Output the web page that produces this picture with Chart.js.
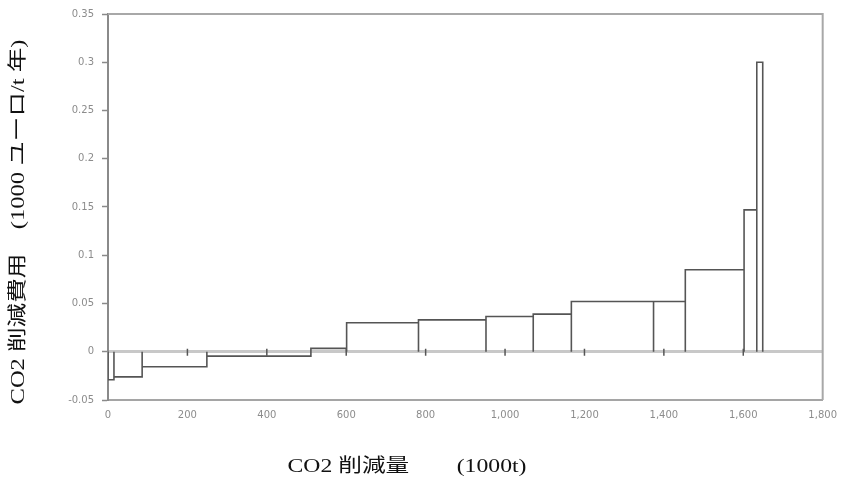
<!DOCTYPE html>
<html>
<head>
<meta charset="utf-8">
<script src="https://cdn.jsdelivr.net/npm/chart.js@4.4.0/dist/chart.umd.min.js"></script>
<style>
  html, body { margin: 0; padding: 0; background: #fff; }
</style>
</head>
<body>
<canvas id="macChart" width="846" height="484"></canvas>
<script>
// cumulative reduction at the right edge of each measure (1000t) and its cost
const blockEnds = [15, 86, 249, 511, 601, 782, 952, 1071, 1167, 1374, 1454, 1602, 1634, 1649];
const costs = [-0.029, -0.026, -0.0155, -0.0045, 0.0035, 0.030, 0.033, 0.0365, 0.039, 0.052, 0.052, 0.085, 0.147, 0.300];
const xTickValues = [0, 200, 400, 600, 800, 1000, 1200, 1400, 1600, 1800];
const xTickLabels = ["0", "200", "400", "600", "800", "1,000", "1,200", "1,400", "1,600", "1,800"];
const yTickValues = [-0.05, 0, 0.05, 0.1, 0.15, 0.2, 0.25, 0.3, 0.35];
const yTickLabels = ["-0.05", "0", "0.05", "0.1", "0.15", "0.2", "0.25", "0.3", "0.35"];
const xTitle = "CO2 削減量　　(1000t)";
const yTitle = "CO2 削減費用　(1000 ユーロ/t 年)";

// outline of every block: up the left edge, across the top, down the right edge
const outline = [];
let start = 0;
blockEnds.forEach((end, i) => {
  outline.push({ x: start, y: 0 }, { x: start, y: costs[i] }, { x: end, y: costs[i] }, { x: end, y: 0 });
  start = end;
});

const tickFont = { family: "'DejaVu Sans', sans-serif", size: 10 };
const titleFont = "19px 'Liberation Serif', 'Noto Sans CJK JP', serif";

// top and right edge of the plot box
const frame = {
  id: "frame",
  beforeDatasetsDraw(chart) {
    const { ctx, chartArea: a } = chart;
    ctx.save();
    ctx.strokeStyle = "#a8a8a8";
    ctx.lineWidth = 2;
    ctx.beginPath();
    ctx.moveTo(a.left, a.top);
    ctx.lineTo(a.right, a.top);
    ctx.lineTo(a.right, a.bottom);
    ctx.stroke();
    ctx.restore();
  }
};

// small x tick marks sitting on the zero line
const zeroTicks = {
  id: "zeroTicks",
  afterDatasetsDraw(chart) {
    const { ctx, scales } = chart;
    const y0 = scales.y.getPixelForValue(0);
    ctx.save();
    ctx.strokeStyle = "#555";
    ctx.lineWidth = 1.5;
    xTickValues.slice(1, -1).forEach(v => {
      const px = scales.x.getPixelForValue(v);
      ctx.beginPath();
      ctx.moveTo(px, y0 - 3);
      ctx.lineTo(px, y0 + 4);
      ctx.stroke();
    });
    ctx.restore();
  }
};

// axis titles, stretched a little like the original wide type
const titles = {
  id: "titles",
  afterDraw(chart) {
    const { ctx } = chart;
    ctx.save();
    ctx.font = titleFont;
    ctx.fillStyle = "#111";
    ctx.textAlign = "center";
    ctx.textBaseline = "middle";

    let w = ctx.measureText(xTitle).width;
    ctx.save();
    ctx.translate(407, 467);
    ctx.scale(239 / w, 1);
    ctx.fillText(xTitle, 0, 0);
    ctx.restore();

    w = ctx.measureText(yTitle).width;
    ctx.save();
    ctx.translate(19, 222);
    ctx.rotate(-Math.PI / 2);
    ctx.scale(365 / w, 1);
    ctx.fillText(yTitle, 0, 0);
    ctx.restore();

    ctx.restore();
  }
};

new Chart(document.getElementById("macChart"), {
  type: "line",
  data: {
    datasets: [{
      data: outline,
      borderColor: "#555555",
      borderWidth: 1.6,
      pointRadius: 0,
      fill: false,
      tension: 0
    }]
  },
  options: {
    responsive: false,
    animation: false,
    layout: { padding: { top: 13, right: 23, left: 0, bottom: 0 } },
    plugins: { legend: { display: false }, tooltip: { enabled: false } },
    scales: {
      x: {
        type: "linear",
        min: 0,
        max: 1800,
        afterBuildTicks: s => { s.ticks = xTickValues.map(v => ({ value: v })); },
        afterFit: s => { s.height = 84; },
        ticks: {
          font: tickFont,
          color: "#8c8c8c",
          padding: 9,
          maxRotation: 0,
          callback: (v, i) => xTickLabels[i]
        },
        grid: { color: "rgba(0,0,0,0)", drawTicks: false },
        border: { color: "#a5a5a5", width: 2 }
      },
      y: {
        min: -0.05,
        max: 0.35,
        afterBuildTicks: s => { s.ticks = yTickValues.map(v => ({ value: v })); },
        afterFit: s => { s.width = 108; },
        ticks: {
          font: tickFont,
          color: "#8c8c8c",
          padding: 8,
          callback: (v, i) => yTickLabels[i]
        },
        grid: {
          color: c => (c.tick && c.tick.value === 0 ? "#c8c8c8" : "rgba(0,0,0,0)"),
          lineWidth: c => (c.tick && c.tick.value === 0 ? 3 : 1),
          tickColor: "#8a8a8a",
          tickLength: 6,
          tickWidth: 1.5
        },
        border: { color: "#8a8a8a", width: 2 }
      }
    }
  },
  plugins: [frame, zeroTicks, titles]
});
</script>
</body>
</html>
